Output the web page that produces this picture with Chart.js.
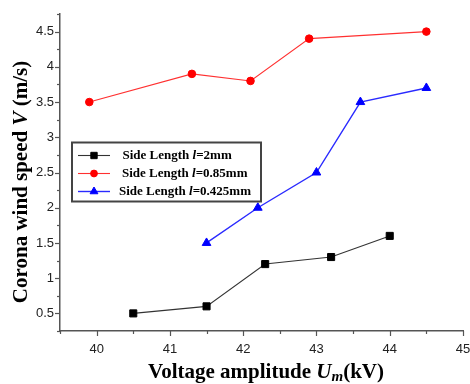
<!DOCTYPE html>
<html><head><meta charset="utf-8">
<script src="https://cdn.jsdelivr.net/npm/chart.js@4/dist/chart.umd.min.js"></script>
<style>html,body{margin:0;padding:0;background:#fff}#wrap{width:470px;height:384px}</style>
</head><body><div id="wrap"><canvas id="c" width="470" height="384"></canvas></div>
<script>
const seriesNames = ["2mm", "0.85mm", "0.425mm"];
const x2mm = [40.5, 41.5, 42.3, 43.2, 44.0];
const y2mm = [0.5, 0.6, 1.2, 1.3, 1.6];
const x085 = [39.9, 41.3, 42.1, 42.9, 44.5];
const y085 = [3.5, 3.9, 3.8, 4.4, 4.5];
const x0425 = [41.5, 42.2, 43.0, 43.6, 44.5];
const y0425 = [1.5, 2.0, 2.5, 3.5, 3.7];
const xTickLabels = [40, 41, 42, 43, 44, 45];
const yTickLabels = [0.5, 1, 1.5, 2, 2.5, 3, 3.5, 4, 4.5];

const pts = (xs, ys) => xs.map((x, i) => ({x: x, y: ys[i]}));
const colors = ['#000000', '#ff0000', '#0000ff'];
const lineColors = ['#333333', '#ff3030', '#2a2aff'];
const shapes = ['rect', 'circle', 'triangle'];
const radii = [5, 3.8, 5];
const legendRadii = [4.5, 3.4, 4.5];
const dataArr = [pts(x2mm, y2mm), pts(x085, y085), pts(x0425, y0425)];

const datasets = dataArr.map((d, i) => ({
  label: 'Side Length l=' + seriesNames[i],
  data: d,
  showLine: true,
  borderColor: lineColors[i],
  borderWidth: i === 2 ? 1.4 : 1.1,
  backgroundColor: colors[i],
  pointBackgroundColor: colors[i],
  pointBorderColor: colors[i],
  pointStyle: shapes[i],
  pointRadius: radii[i],
  pointBorderWidth: 1
}));

function near(v, arr) { return arr.some(a => Math.abs(a - v) < 1e-6); }

function drawSegments(ctx, segs, x, y, align) {
  let total = 0;
  segs.forEach(s => { ctx.font = s.font; total += ctx.measureText(s.t).width; });
  let cx = align === 'center' ? x - total / 2 : x;
  segs.forEach(s => {
    ctx.font = s.font;
    ctx.fillText(s.t, cx, y + (s.dy || 0));
    cx += ctx.measureText(s.t).width;
  });
}

const deco = {
  id: 'deco',
  afterDraw(chart) {
    const ctx = chart.ctx;
    const xs = chart.scales.x, ys = chart.scales.y;
    const ca = chart.chartArea;
    ctx.save();
    ctx.strokeStyle = '#555';
    ctx.lineWidth = 1.2;
    xs.ticks.forEach(t => {
      const px = Math.round(xs.getPixelForValue(t.value)) + 0.5;
      const major = near(t.value, xTickLabels);
      ctx.beginPath();
      ctx.moveTo(px, ca.bottom);
      ctx.lineTo(px, ca.bottom + (major ? 5 : 3));
      ctx.stroke();
    });
    ys.ticks.forEach(t => {
      const py = Math.round(ys.getPixelForValue(t.value)) + 0.5;
      const major = near(t.value, yTickLabels);
      ctx.beginPath();
      ctx.moveTo(ca.left, py);
      ctx.lineTo(ca.left - (major ? 5 : 3), py);
      ctx.stroke();
    });
    ctx.fillStyle = '#000';
    ctx.textBaseline = 'alphabetic';
    const B = "bold 21px 'Liberation Serif'";
    const BI = "italic bold 21px 'Liberation Serif'";
    const BIs = "italic bold 15px 'Liberation Serif'";
    drawSegments(ctx, [
      {t: 'Voltage amplitude ', font: B},
      {t: 'U', font: BI},
      {t: 'm', font: BIs, dy: 3},
      {t: '(kV)', font: B}
    ], 266, 378, 'center');
    ctx.save();
    ctx.translate(27, 182);
    ctx.rotate(-Math.PI / 2);
    drawSegments(ctx, [
      {t: 'Corona wind speed ', font: B},
      {t: 'V', font: BI},
      {t: ' (m/s)', font: B}
    ], 0, 0, 'center');
    ctx.restore();
    const lx = 72, ly = 142.5, lw = 189, lh = 59;
    ctx.fillStyle = '#fff';
    ctx.fillRect(lx, ly, lw, lh);
    ctx.strokeStyle = '#444';
    ctx.lineWidth = 2;
    ctx.strokeRect(lx, ly, lw, lh);
    const rowsY = [155, 173, 191];
    const textX = [122.5, 122, 119];
    const LB = "bold 13px 'Liberation Serif'";
    const LBI = "italic bold 13px 'Liberation Serif'";
    chart.data.datasets.forEach((ds, i) => {
      const y = rowsY[i];
      ctx.strokeStyle = ds.borderColor;
      ctx.lineWidth = ds.borderWidth;
      ctx.beginPath();
      ctx.moveTo(78, y + 0.5);
      ctx.lineTo(110, y + 0.5);
      ctx.stroke();
      ctx.fillStyle = ds.pointBackgroundColor;
      ctx.strokeStyle = ds.pointBorderColor;
      ctx.lineWidth = 1;
      Chart.helpers.drawPoint(ctx, {pointStyle: ds.pointStyle, radius: legendRadii[i], borderWidth: 1, rotation: 0}, 94, y + 0.5);
      ctx.fillStyle = '#000';
      ctx.textBaseline = 'middle';
      drawSegments(ctx, [
        {t: 'Side Length ', font: LB},
        {t: 'l', font: LBI},
        {t: '=' + seriesNames[i], font: LB}
      ], textX[i], y + 1, 'left');
    });
    ctx.restore();
  }
};

new Chart(document.getElementById('c'), {
  type: 'scatter',
  data: { datasets: datasets },
  options: {
    responsive: false,
    animation: false,
    layout: { padding: { top: 14, right: 7, left: 0, bottom: 0 } },
    plugins: { legend: { display: false }, tooltip: { enabled: false } },
    scales: {
      x: {
        type: 'linear', min: 39.5, max: 45,
        grid: { display: false, drawTicks: false },
        border: { display: true, color: '#555', width: 1.5 },
        ticks: {
          stepSize: 0.5, padding: 11, maxRotation: 0, autoSkip: false,
          color: '#222', font: { family: "'Liberation Sans'", size: 13 },
          callback: v => near(v, xTickLabels) ? String(v) : ''
        },
        afterFit: s => { s.height = 53; s.paddingLeft = 0; s.paddingRight = 0; }
      },
      y: {
        type: 'linear', min: 0.25, max: 4.75,
        grid: { display: false, drawTicks: false },
        border: { display: true, color: '#555', width: 1.5 },
        ticks: {
          stepSize: 0.25, padding: 6, autoSkip: false,
          color: '#222', font: { family: "'Liberation Sans'", size: 13 },
          callback: v => near(v, yTickLabels) ? String(v) : ''
        },
        afterFit: s => { s.width = 60; s.paddingTop = 0; s.paddingBottom = 0; }
      }
    }
  },
  plugins: [deco]
});
</script>
</body></html>
